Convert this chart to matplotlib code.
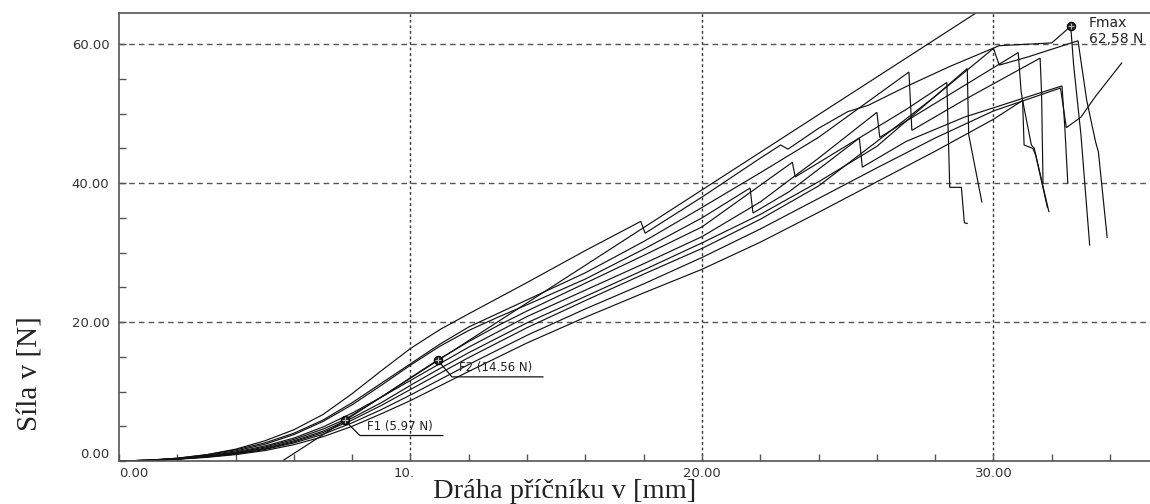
import matplotlib
matplotlib.use("Agg")
import matplotlib.pyplot as plt
from matplotlib.ticker import FixedLocator
from matplotlib.transforms import IdentityTransform, ScaledTranslation

# ---- measured force / crosshead travel curves (x in mm, y in N) ----
t1_x = [0, 1, 2, 3, 4, 5, 6, 7, 8, 9, 10, 11, 12, 14, 16, 17.9, 18.05, 20, 22, 22.7, 22.95, 24, 25,
        25.7, 27, 28.5, 30.2, 31.6, 32.0, 32.65, 32.75, 33.0, 33.3]
t1_y = [0, 0.1, 0.4, 0.9, 1.7, 2.9, 4.5, 6.7, 9.7, 13.0, 16.2, 18.9, 21.2, 25.7, 30.3, 34.5, 32.8, 38.0,
        43.6, 45.5, 44.9, 47.9, 50.3, 51.2, 53.9, 56.8, 59.8, 60.1, 60.2, 62.58, 57.0, 47.0, 31.1]

a_x = [0, 1, 2, 3, 4, 5, 6, 7, 8, 9, 10, 11, 12, 13, 14, 16, 18, 20, 21.65, 21.75, 23, 25.4, 25.5, 27,
       29, 31, 32.35, 32.45, 32.55]
a_y = [0, 0.1, 0.35, 0.8, 1.45, 2.4, 3.8, 5.7, 8.1, 10.9, 13.8, 16.5, 18.8, 20.7, 22.5, 26.2, 30.5, 35.0,
       39.3, 35.7, 38.8, 46.5, 42.3, 46.0, 49.5, 52.2, 54.0, 47.9, 40.0]

b_x = [0, 1, 2, 3, 4, 5, 6, 7, 7.75, 9, 10, 10.94, 12, 13, 14, 16, 18, 20, 23.1, 23.2, 25, 27, 28.4,
       28.5, 28.9, 29.0, 29.1]
b_y = [0, 0.1, 0.3, 0.65, 1.2, 2.0, 3.1, 4.6, 5.97, 9.2, 12.0, 14.56, 17.2, 19.5, 21.6, 25.6, 29.6, 33.7,
       43.0, 40.9, 45.5, 50.6, 54.5, 39.4, 39.4, 34.3, 34.2]

c_x = [0, 1, 2, 3, 4, 5, 6, 7, 8, 9, 10, 11, 12, 14, 16, 18, 20, 22, 24, 26.0, 26.1, 28, 30.85, 30.95,
       31.0, 31.3, 31.4, 31.9]
c_y = [0, 0.1, 0.32, 0.7, 1.3, 2.15, 3.3, 4.9, 6.9, 9.2, 11.6, 14.0, 16.4, 20.8, 24.6, 28.4, 32.3, 37.3,
       43.6, 50.2, 46.6, 51.5, 58.8, 53.1, 51.9, 45.5, 45.0, 35.9]

d_x = [0, 1, 2, 3, 4, 5, 6, 7, 8, 9, 10, 11, 12, 14, 16, 18, 20, 22, 24, 27.1, 27.2, 29, 31.6, 31.65, 31.7]
d_y = [0, 0.12, 0.4, 0.9, 1.6, 2.6, 4.0, 5.9, 8.4, 11.2, 14.0, 16.8, 19.3, 23.2, 27.1, 31.6, 36.5, 41.5,
       46.6, 56.0, 47.6, 52.0, 58.0, 53.0, 40.0]

e_x = [0, 1, 2, 3, 4, 5, 6, 7, 8, 9, 10, 11, 12, 14, 16, 18, 20, 22, 24, 26, 29.1, 29.15, 29.6]
e_y = [0, 0.1, 0.3, 0.62, 1.1, 1.85, 2.9, 4.3, 6.2, 8.4, 10.9, 13.3, 15.6, 19.9, 23.7, 27.5, 31.4, 35.5,
       40.2, 45.3, 56.5, 47.0, 37.3]

f_x = [0, 1, 2, 3, 4, 5, 6, 7, 8, 9, 10, 11, 12, 14, 16, 18, 20, 22, 24, 26, 28, 30.0, 30.2, 31.2,
       32.9, 33.2, 33.5, 33.6, 33.9]
f_y = [0, 0.1, 0.3, 0.6, 1.05, 1.75, 2.75, 4.1, 5.9, 8.0, 10.3, 12.6, 14.9, 19.2, 23.1, 26.9, 30.6, 34.8,
       39.6, 46.0, 52.5, 59.4, 57.0, 58.2, 60.5, 51.9, 46.0, 44.5, 32.2]

g_x = [0, 1, 2, 3, 4, 5, 6, 7, 8, 9, 10, 11, 12, 14, 16, 18, 20, 22, 24, 26, 28, 30, 32.3, 32.5, 33.0,
       33.5, 34.4]
g_y = [0, 0.08, 0.28, 0.58, 1.0, 1.65, 2.6, 3.85, 5.5, 7.4, 9.5, 11.7, 13.9, 18.1, 21.9, 25.5, 29.3, 33.4,
       37.8, 42.2, 46.5, 50.4, 53.7, 48.0, 49.5, 52.5, 57.3]

h_x = [0, 1, 2, 3, 4, 5, 6, 7, 8, 9, 10, 11, 12, 14, 16, 18, 20, 22, 24, 26, 28, 30, 31.0, 31.05, 31.35,
       31.45, 31.85]
h_y = [0, 0.08, 0.25, 0.52, 0.92, 1.5, 2.35, 3.5, 5.0, 6.8, 8.7, 10.8, 12.9, 17.0, 20.7, 24.2, 27.6, 31.5,
       35.8, 40.2, 44.6, 49.2, 51.9, 45.5, 45.0, 44.0, 36.5]

# tangent (modulus) line
tan_x = [5.6, 29.4]
tan_y = [0.0, 64.5]

curves = [(t1_x, t1_y), (a_x, a_y), (b_x, b_y), (c_x, c_y), (d_x, d_y),
          (e_x, e_y), (f_x, f_y), (g_x, g_y), (h_x, h_y), (tan_x, tan_y)]

# characteristic points
f1_x, f1_y = 7.75, 5.97
f2_x, f2_y = 10.94, 14.56
fmax_x, fmax_y = 32.65, 62.58

x_ticks = [0, 10, 20, 30]
x_tick_labels = ["0.00", "10.", "20.00", "30.00"]
y_ticks = [0, 20, 40, 60]
y_tick_labels = ["0.00", "20.00", "40.00", "60.00"]

W, H = 1150, 504
fig = plt.figure(figsize=(W / 100, H / 100), dpi=100)
fig.patch.set_facecolor("white")
ax = fig.add_axes([119 / W, (H - 461) / H, (W - 119) / W, (461 - 13) / H])
ax.set_xlim(0, 35.37)
ax.set_ylim(0, 64.5)

for xs, ys in curves:
    ax.plot(xs, ys, color="#111111", lw=0.85, solid_joinstyle="miter")

# grid
for gx in x_ticks[1:]:
    ax.axvline(gx, color="#333333", lw=1.0, linestyle=(0, (2, 2)), zorder=0)
for gy in y_ticks[1:]:
    ax.axhline(gy, color="#555555", lw=1.0, linestyle=(0, (4, 3)), zorder=0)

# spines
for side in ["left", "bottom", "top"]:
    ax.spines[side].set_color("#555555")
    ax.spines[side].set_linewidth(1.2)
ax.spines["right"].set_visible(False)

ax.xaxis.set_major_locator(FixedLocator(x_ticks))
ax.yaxis.set_major_locator(FixedLocator(y_ticks))
ax.xaxis.set_minor_locator(FixedLocator([v for v in range(2, 36, 2) if v % 10]))
ax.yaxis.set_minor_locator(FixedLocator([v for v in range(5, 65, 5) if v % 20]))
ax.tick_params(which="both", direction="in", color="#555555", width=1.0, top=False, right=False)
ax.tick_params(which="both", length=5)
ax.tick_params(axis="x", which="major", pad=4)
ax.tick_params(axis="y", which="major", pad=7)
tick_font = dict(fontsize=9.5, color="#333333", family="DejaVu Sans")
ax.set_xticklabels(x_tick_labels, **tick_font)
ax.set_yticklabels(y_tick_labels, **tick_font)
xl = ax.get_xticklabels()
xl[0].set_horizontalalignment("left")
xl[1].set_transform(xl[1].get_transform() + ScaledTranslation(-6 / 100, 0, fig.dpi_scale_trans))
yl = ax.get_yticklabels()
yl[0].set_verticalalignment("bottom")

# axis titles
fig.text(565 / W, 1 - 492 / H, "Dráha příčníku v [mm]", fontsize=20.5, family="Liberation Serif",
         ha="center", va="center", color="#222222")
fig.text(30 / W, 1 - 374 / H, "Síla v [N]", fontsize=21, family="Liberation Serif",
         ha="center", va="center", rotation=90, color="#222222")

# markers and labels
fig.canvas.draw()
ident = IdentityTransform()


def leader(px, py, pts):
    bx, by = ax.transData.transform((px, py))
    xs = [bx + dx for dx, dy in pts]
    ys = [by + dy for dx, dy in pts]
    ax.plot(xs, ys, transform=ident, color="#111111", lw=0.9, clip_on=False)
    return bx, by


for mx, my in [(f1_x, f1_y), (f2_x, f2_y), (fmax_x, fmax_y)]:
    ax.plot([mx], [my], marker="o", ms=6, mfc="#222222", mec="#000000", mew=0.8, zorder=5)
    ax.plot([mx], [my], marker="+", ms=5, mec="#bbbbbb", mew=0.8, zorder=6)

label_font = dict(fontsize=8.5, color="#222222", family="DejaVu Sans")
bx, by = leader(f1_x, f1_y, [(3, -4), (15, -16), (98, -16)])
ax.text(bx + 22, by - 13, "F1 (5.97 N)", transform=ident, ha="left", va="bottom", **label_font)
bx, by = leader(f2_x, f2_y, [(3, -4), (14, -17), (105, -17)])
ax.text(bx + 21, by - 14, "F2 (14.56 N)", transform=ident, ha="left", va="bottom", **label_font)
bx, by = ax.transData.transform((fmax_x, fmax_y))
fm_font = dict(fontsize=10, color="#222222", family="DejaVu Sans")
ax.text(bx + 18, by + 3, "Fmax", transform=ident, ha="left", va="center", **fm_font)
ax.text(bx + 18, by - 13, "62,58 N", transform=ident, ha="left", va="center", **fm_font)

fig.savefig("out.png", dpi=100, facecolor="white")
